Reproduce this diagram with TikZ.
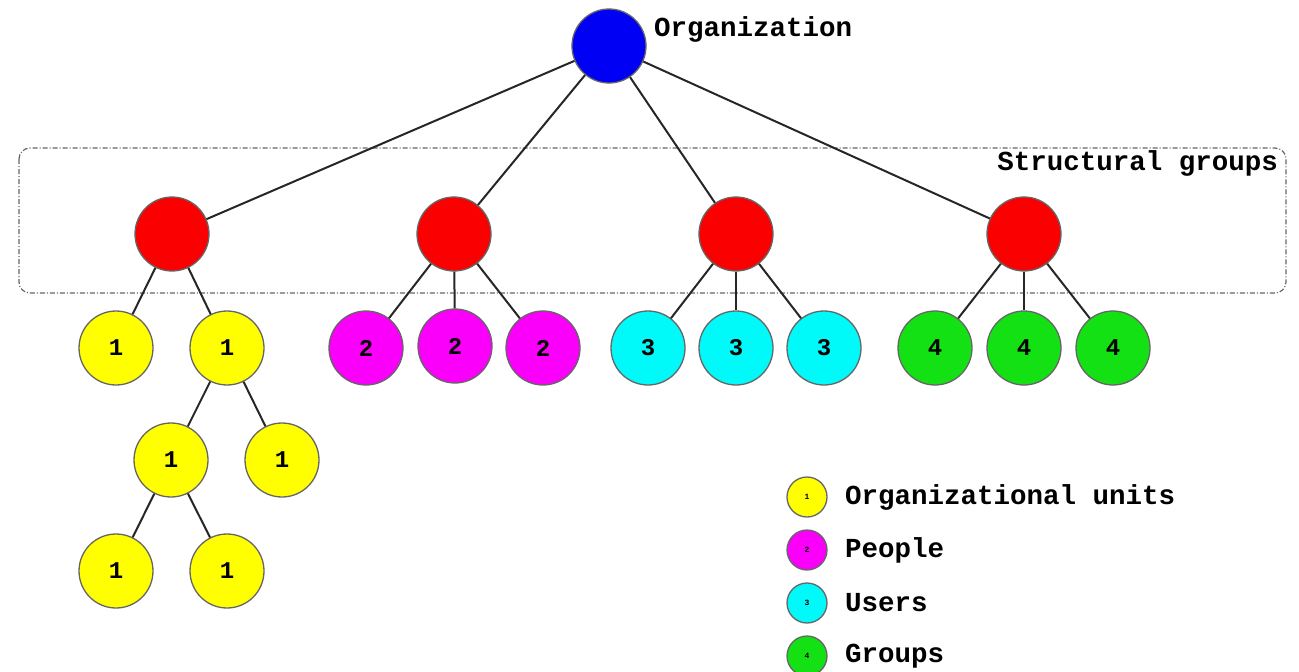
\documentclass[tikz,border=0pt]{standalone}
\usepackage{fontspec}
\setmonofont{Liberation Mono}
\definecolor{orgblue}{RGB}{0,0,245}
\definecolor{sgred}{RGB}{250,0,0}
\definecolor{ouyellow}{RGB}{255,255,0}
\definecolor{pmagenta}{RGB}{250,0,250}
\definecolor{ucyan}{RGB}{0,250,250}
\definecolor{ggreen}{RGB}{20,225,20}
\begin{document}
\begin{tikzpicture}[x=1pt,y=-1pt,
  ball/.style={circle, minimum size=74pt, inner sep=0pt, draw=black!60, line width=1.3pt,
    font=\fontsize{24}{24}\selectfont\ttfamily\bfseries},
  keyball/.style={circle, minimum size=40pt, inner sep=0pt, draw=black!60, line width=1.3pt,
    font=\fontsize{8}{8}\selectfont\ttfamily\bfseries},
  label text/.style={font=\fontsize{27.5}{27.5}\selectfont\ttfamily\bfseries, inner sep=0pt},
  link/.style={draw=black!85, line width=2pt}]
\path[use as bounding box] (0,0) rectangle (1299,672);

% structural groups frame
\draw[gray!80!black, line width=1.2pt, dash pattern=on 5pt off 2pt on 1pt off 2pt, rounded corners=11pt]
  (19,148) rectangle (1286,293);
\node[label text, anchor=east] (sglabel) at (1278,163) {Structural groups};

% root
\node[ball, fill=orgblue] (org) at (609,46) {};
\node[label text, anchor=west] (orglabel) at (654,29) {Organization};

% structural groups
\node[ball, fill=sgred] (s1) at (172,234) {};
\node[ball, fill=sgred] (s2) at (454,234) {};
\node[ball, fill=sgred] (s3) at (736,234) {};
\node[ball, fill=sgred] (s4) at (1024,234) {};

% organizational units
\node[ball, fill=ouyellow] (u1) at (116,348) {1};
\node[ball, fill=ouyellow] (u2) at (227,348) {1};
\node[ball, fill=ouyellow] (u3) at (171,460) {1};
\node[ball, fill=ouyellow] (u4) at (282,460) {1};
\node[ball, fill=ouyellow] (u5) at (116,571) {1};
\node[ball, fill=ouyellow] (u6) at (227,571) {1};

% people
\node[ball, fill=pmagenta] (p1) at (366,348) {2};
\node[ball, fill=pmagenta] (p2) at (455,346) {2};
\node[ball, fill=pmagenta] (p3) at (543,348) {2};

% users
\node[ball, fill=ucyan] (c1) at (648,348) {3};
\node[ball, fill=ucyan] (c2) at (736,348) {3};
\node[ball, fill=ucyan] (c3) at (824,348) {3};

% groups
\node[ball, fill=ggreen] (g1) at (935,348) {4};
\node[ball, fill=ggreen] (g2) at (1024,348) {4};
\node[ball, fill=ggreen] (g3) at (1113,348) {4};

% connectors
\foreach \s in {s1,s2,s3,s4} \draw[link] (org) -- (\s);
\draw[link] (s1) -- (u1);
\draw[link] (s1) -- (u2);
\draw[link] (u2) -- (u3);
\draw[link] (u2) -- (u4);
\draw[link] (u3) -- (u5);
\draw[link] (u3) -- (u6);
\foreach \c in {p1,p2,p3} \draw[link] (s2) -- (\c);
\foreach \c in {c1,c2,c3} \draw[link] (s3) -- (\c);
\foreach \c in {g1,g2,g3} \draw[link] (s4) -- (\c);

% legend
\node[keyball, fill=ouyellow] (k1) at (807,497) {1};
\node[keyball, fill=pmagenta] (k2) at (807,550) {2};
\node[keyball, fill=ucyan] (k3) at (807,603) {3};
\node[keyball, fill=ggreen] (k4) at (807,656) {4};
\node[label text, anchor=west] (t1) at (845,497) {Organizational units};
\node[label text, anchor=west] (t2) at (845,550) {People};
\node[label text, anchor=west] (t3) at (845,603) {Users};
\node[label text, anchor=west] (t4) at (845,656) {Groups};
\end{tikzpicture}
\end{document}
